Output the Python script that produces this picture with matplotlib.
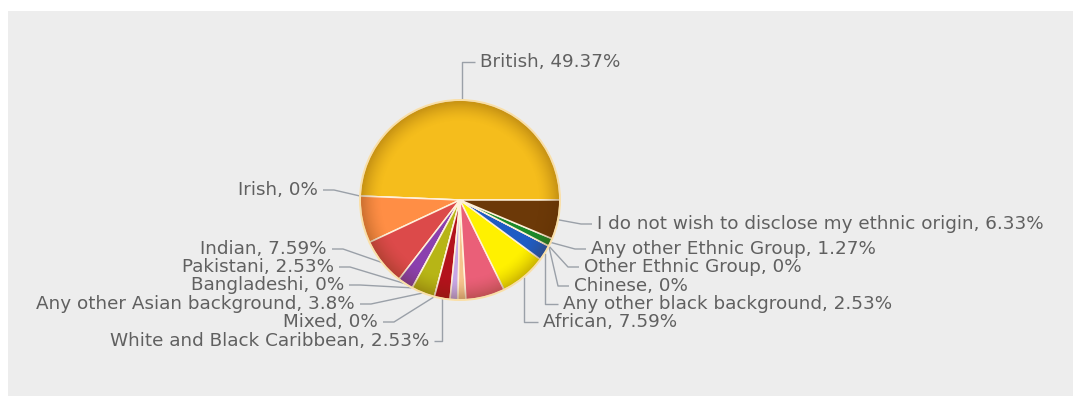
import numpy as np
import matplotlib
matplotlib.use("Agg")
import matplotlib.pyplot as plt
from matplotlib.patches import Rectangle, Circle

# Ethnic origin breakdown (percent of respondents), in drawing order
categories = [
    "British", "Irish", "Any other White background", "Indian", "Pakistani",
    "Bangladeshi", "Any other Asian background", "Mixed",
    "White and Black Caribbean", "White and Black African", "White and Asian",
    "Caribbean", "African", "Any other black background", "Chinese",
    "Other Ethnic Group", "Any other Ethnic Group",
    "I do not wish to disclose my ethnic origin",
]
shares = [49.37, 0, 7.59, 7.59, 2.53, 0, 3.8, 0, 2.53, 1.27, 1.27, 6.33,
          7.59, 2.53, 0, 0, 1.27, 6.33]
show_label = [True, True, False, True, True, True, True, True, True,
              False, False, False, True, True, True, True, True, True]

colors = ["#F5BD1C", "#F7C11E", "#FF8E45", "#DC4A4A", "#8B40AE", "#A03FA0",
          "#B7B516", "#C8B020", "#B3121C", "#C7A7E6", "#F6C38E", "#EA5F78",
          "#FFF100", "#1F5CC4", "#2E7FD0", "#2A86C8", "#1B8A2A", "#6C3908"]

W, H = 1073, 396
fig = plt.figure(figsize=(W / 100, H / 100), dpi=100)
fig.patch.set_facecolor("white")
ax = fig.add_axes([0, 0, 1, 1])
ax.set_xlim(0, W)
ax.set_ylim(0, H)
ax.axis("off")

# plot panel
ax.add_patch(Rectangle((8, 0), W - 8, H - 11, facecolor="#EDEDED",
                       edgecolor="none", zorder=0))

cx, cy, R = 460, H - 200, 100

wedges, _ = ax.pie(shares, colors=colors, startangle=0, counterclock=True,
                   radius=R, center=(cx, cy), frame=True,
                   wedgeprops=dict(edgecolor="#FFF1DA", linewidth=1.1,
                                   zorder=3))
ax.set_xlim(0, W)
ax.set_ylim(0, H)
ax.set_aspect("equal")
ax.axis("off")

# darker rim shading for a rounded look
n = 400
gx, gy = np.meshgrid(np.linspace(-1, 1, n), np.linspace(-1, 1, n))
rr = np.hypot(gx, gy)
alpha = 0.28 * np.clip((rr - 0.78) / 0.2, 0, 1) ** 1.6
shade = np.zeros((n, n, 4))
shade[..., 0] = 0.35
shade[..., 1] = 0.18
shade[..., 2] = 0.0
shade[..., 3] = alpha
clip = Circle((cx, cy), R, transform=ax.transData)
im = ax.imshow(shade, extent=(cx - R, cx + R, cy - R, cy + R), zorder=4,
               interpolation="bilinear")
im.set_clip_path(clip)
ax.add_patch(Circle((cx, cy), R, facecolor="none", edgecolor="#F9DFA8",
                    linewidth=1.4, zorder=5))

# label anchors: (side, text edge x, text centre y) in pixel coordinates
label_pos = {
    "British": ("right", 480, 62),
    "Irish": ("left", 318, 190),
    "Indian": ("left", 327, 249),
    "Pakistani": ("left", 334, 267),
    "Bangladeshi": ("left", 344, 285),
    "Any other Asian background": ("left", 355, 304),
    "Mixed": ("left", 378, 322),
    "White and Black Caribbean": ("left", 429, 341),
    "I do not wish to disclose my ethnic origin": ("right", 597, 224),
    "Any other Ethnic Group": ("right", 591, 249),
    "Other Ethnic Group": ("right", 584, 267),
    "Chinese": ("right", 574, 286),
    "Any other black background": ("right", 563, 304),
    "African": ("right", 543, 322),
}

cum = np.concatenate([[0], np.cumsum(shares)])
total = cum[-1]
for i, (name, val) in enumerate(zip(categories, shares)):
    if not show_label[i]:
        continue
    side, tx, ty = label_pos[name]
    ty = H - ty
    mid = np.deg2rad(360.0 * (cum[i] + cum[i + 1]) / 2 / total)
    ex, ey = cx + R * np.cos(mid), cy + R * np.sin(mid)
    sgn = -1 if side == "right" else 1
    start = tx + sgn * 5
    if abs(ex - tx) < 21:
        bend = ex
    else:
        bend = tx + sgn * 16
    ax.plot([start, bend, ex], [ty, ty, ey], color="#9AA0A8", lw=1.0,
            zorder=2, solid_capstyle="butt")
    txt = f"{name}, {val:g}%"
    ax.text(tx, ty, txt, ha="left" if side == "right" else "right",
            va="center", fontsize=13.2, color="#606060",
            family="DejaVu Sans", zorder=6)

fig.savefig("out.png", dpi=100, facecolor="white")
